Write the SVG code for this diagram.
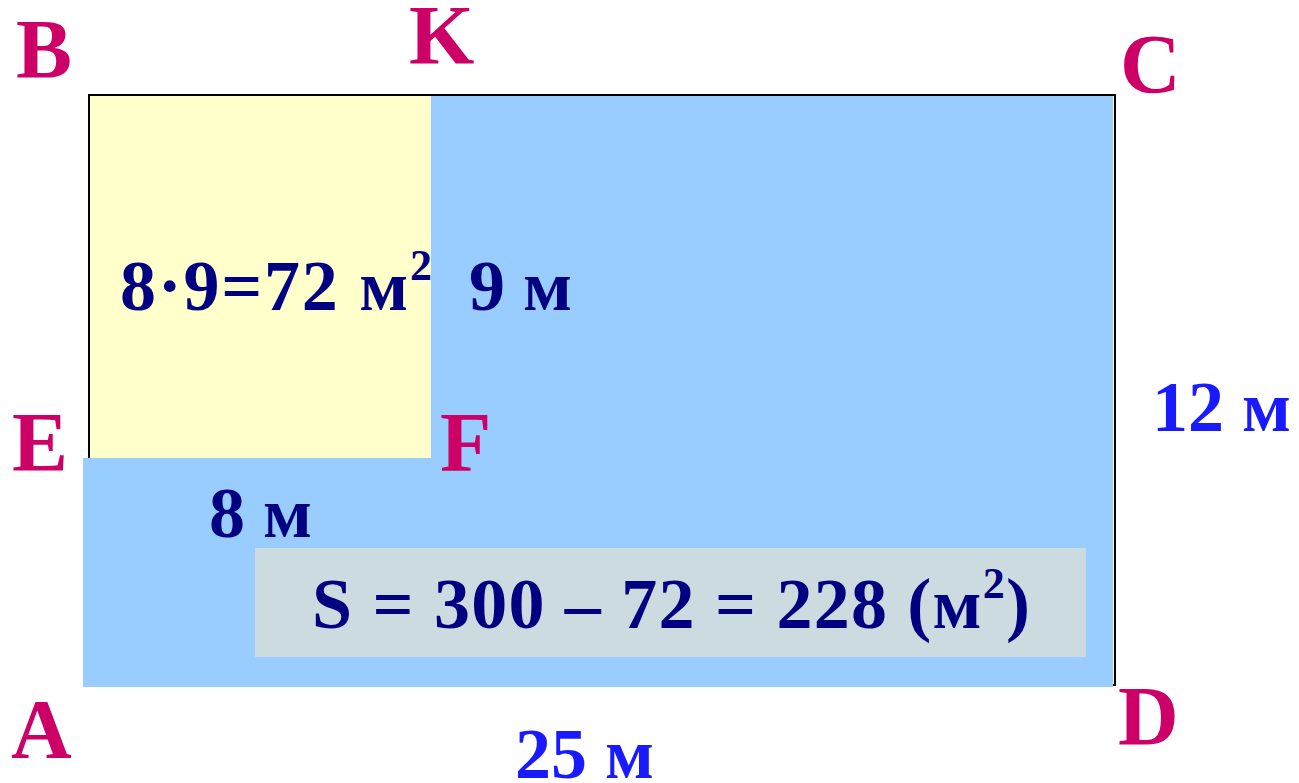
<svg xmlns="http://www.w3.org/2000/svg" width="1299" height="783" viewBox="0 0 1299 783">
<style>
.lbl{font-family:"Liberation Serif","Times New Roman",serif;font-weight:bold;font-size:84px;fill:#CC0066}
.dim{font-family:"Liberation Serif","Times New Roman",serif;font-weight:bold;font-size:72px;fill:#1A1AFF}
.nv{font-family:"Liberation Serif","Times New Roman",serif;font-weight:bold;font-size:72px;fill:#000080}
.sup{font-size:44px}
</style>
<rect width="1299" height="783" fill="#FFFFFF"/>
<g id="outline">
<rect x="89" y="95" width="1026" height="590" fill="#FFFFCC" stroke="#000000" stroke-width="2"/>
</g>
<g id="blue-region">
<path d="M90 96 H1113 V687 H83 V458 H90 Z" fill="#99CCFF"/>
</g>
<g id="yellow-region">
<rect x="90" y="96" width="341" height="362" fill="#FFFFCC"/>
</g>
<g id="left-edge">
<line x1="89" y1="95" x2="89" y2="458" stroke="#000000" stroke-width="2"/>
</g>
<g id="result-box">
<rect x="255" y="548" width="831" height="109" fill="#CCDBE0"/>
<text class="nv" x="312" y="628" font-size="74" textLength="718" lengthAdjust="spacing">S = 300 – 72 = 228 (м<tspan class="sup" dy="-30">2</tspan><tspan dy="30">)</tspan></text>
</g>
<g id="labels">
<text class="lbl" x="16" y="78">B</text>
<text class="lbl" x="409" y="64">K</text>
<text class="lbl" x="1120" y="93">C</text>
<text class="lbl" x="12" y="471">E</text>
<text class="lbl" x="440" y="471">F</text>
<text class="lbl" x="11" y="758">A</text>
<text class="lbl" x="1118" y="745">D</text>
</g>
<g id="dimensions">
<text class="nv" x="120" y="310" textLength="312" lengthAdjust="spacing">8·9=72 м<tspan class="sup" dy="-30">2</tspan></text>
<text class="nv" x="469" y="310">9 м</text>
<text class="nv" x="209" y="537">8 м</text>
<text class="dim" x="1152" y="431">12 м</text>
<text class="dim" x="515" y="778">25 м</text>
</g>
</svg>
